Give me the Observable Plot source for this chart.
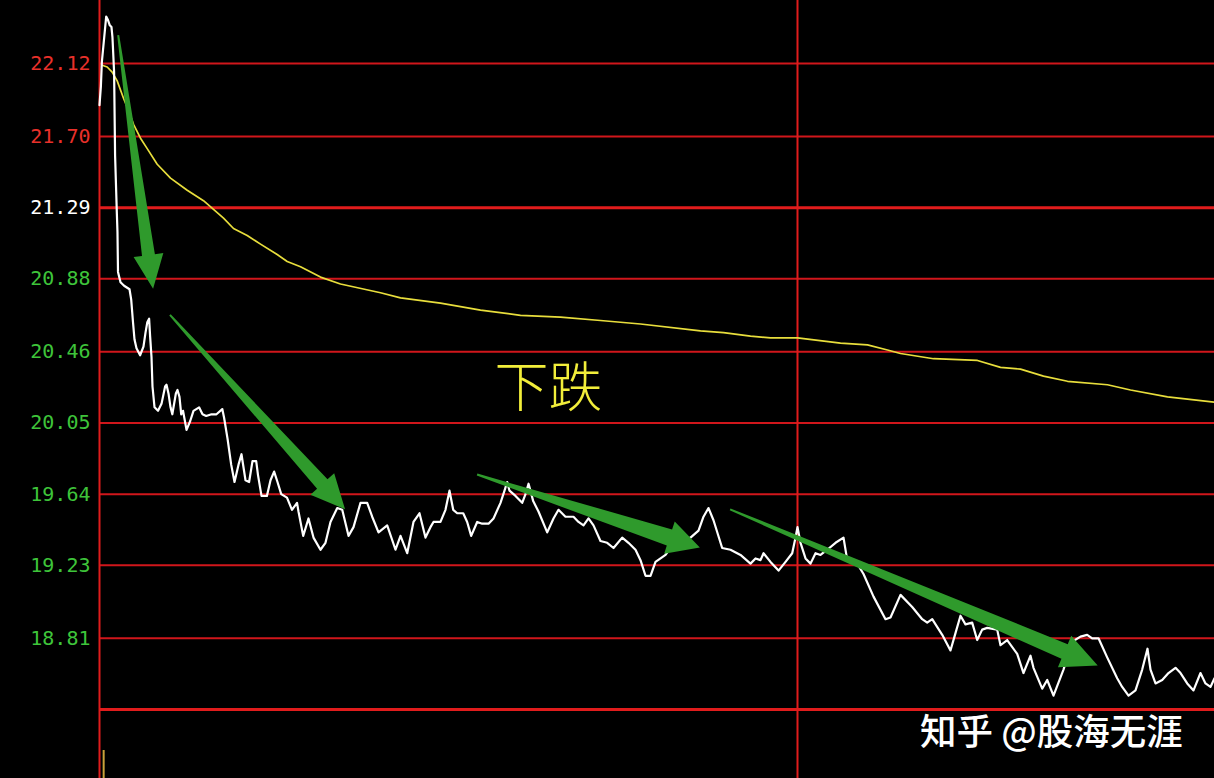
<!DOCTYPE html>
<html>
<head>
<meta charset="utf-8">
<script src="https://cdn.jsdelivr.net/npm/d3@7"></script>
<script src="https://cdn.jsdelivr.net/npm/@observablehq/plot@0.6"></script>
<style>
  html, body { margin: 0; padding: 0; background: #000; }
  #wrap { position: relative; width: 1214px; height: 778px; overflow: hidden; background: #000; }
  #mark { position: absolute; left: 920px; top: 703px; color: #fff; font: 500 36.5px "Noto Sans CJK SC", sans-serif; white-space: nowrap; }
</style>
</head>
<body>
<div id="wrap"><div id="chart"></div><div id="mark">知乎 @股海无涯</div></div>
<script>
// ---- data (minutes since open, price) ----
const prevClose = 21.29;
const tickValues = [22.12, 21.70, 21.29, 20.88, 20.46, 20.05, 19.64, 19.23, 18.81];
const bottomLine = 18.40;
const sessionBreak = 120;   // 11:30 / 13:00
const sessionMinutes = 240;

const priceMinutes = [0,0.24,0.41,1.15,1.46,1.77,2.06,2.23,2.51,2.68,2.99,3.09,3.18,3.61,4.23,5.16,5.45,5.76,6.02,6.36,6.98,7.56,7.91,8.22,8.53,8.70,8.94,9.11,9.46,10.06,10.66,11.28,11.52,11.86,12.21,12.52,13.13,13.41,13.75,14.05,14.36,14.96,15.58,16.16,17.12,17.71,18.34,19.26,20.11,21.11,21.42,22.01,22.64,23.21,23.90,24.41,25.10,25.72,26.30,26.94,27.25,27.85,28.78,29.40,30.02,30.60,31.24,32.23,33.09,33.96,34.21,35.02,35.93,36.79,37.99,38.85,39.71,40.87,41.73,42.81,43.67,44.87,46.02,46.88,47.97,49.46,50.89,51.75,52.90,53.98,55.01,56.04,56.90,57.42,58.62,59.48,60.17,60.81,61.50,62.53,63.21,63.90,64.93,65.79,66.88,67.74,68.94,69.63,70.09,70.49,71.52,72.67,73.24,73.76,74.10,74.56,75.47,76.97,78.05,78.91,80.11,81.49,82.35,83.21,84.07,84.93,86.13,87.28,88.37,89.86,90.94,92.15,93.01,93.87,94.73,95.59,96.45,97.31,98.17,99.89,101.61,102.98,103.84,104.70,105.56,107.05,108.48,110.20,111.92,112.78,113.64,114.16,115.36,116.74,117.94,119.09,119.66,120.00,120.52,121.38,122.24,123.10,123.96,125.11,126.54,127.91,128.55,129.63,130.27,131.35,133.07,135.13,135.99,137.71,139.72,141.44,142.30,143.16,144.88,146.30,147.16,148.02,148.88,150.03,150.89,151.75,152.61,154.33,154.90,156.05,157.77,158.85,160.06,160.57,162.07,162.93,164.01,165.73,167.22,168.65,169.80,170.66,171.75,173.24,174.96,175.82,176.91,178.11,179.26,180.17,180.69,181.55,182.70,183.78,184.99,185.85,187.00,188.08,189.28,190.14,191.00,191.69];
const prices = [21.88,21.99,22.13,22.39,22.37,22.34,22.33,22.27,22.07,21.59,21.25,21.15,20.92,20.86,20.84,20.82,20.76,20.63,20.53,20.48,20.44,20.49,20.57,20.63,20.65,20.55,20.43,20.26,20.14,20.12,20.16,20.26,20.27,20.22,20.14,20.10,20.22,20.24,20.20,20.10,20.12,20.01,20.06,20.12,20.14,20.10,20.09,20.10,20.10,20.13,20.08,19.96,19.81,19.71,19.81,19.87,19.72,19.71,19.83,19.83,19.75,19.63,19.63,19.72,19.77,19.71,19.64,19.62,19.55,19.59,19.54,19.40,19.50,19.39,19.32,19.36,19.48,19.56,19.55,19.40,19.45,19.59,19.59,19.51,19.42,19.46,19.32,19.40,19.30,19.48,19.53,19.39,19.45,19.48,19.48,19.55,19.66,19.55,19.53,19.53,19.48,19.40,19.48,19.47,19.47,19.50,19.59,19.66,19.71,19.66,19.63,19.59,19.64,19.70,19.66,19.60,19.54,19.42,19.50,19.55,19.51,19.51,19.48,19.46,19.50,19.46,19.37,19.36,19.33,19.39,19.36,19.32,19.26,19.17,19.17,19.25,19.27,19.29,19.33,19.36,19.39,19.43,19.51,19.56,19.49,19.33,19.32,19.29,19.24,19.27,19.26,19.30,19.25,19.20,19.25,19.30,19.39,19.45,19.36,19.27,19.24,19.30,19.29,19.32,19.36,19.39,19.26,19.26,19.24,19.18,19.05,18.92,18.93,19.06,18.99,18.92,18.90,18.92,18.83,18.74,18.84,18.94,18.89,18.90,18.80,18.86,18.87,18.86,18.77,18.80,18.72,18.61,18.71,18.64,18.52,18.57,18.48,18.63,18.79,18.82,18.83,18.81,18.81,18.70,18.58,18.53,18.48,18.51,18.63,18.75,18.63,18.55,18.57,18.61,18.64,18.61,18.55,18.51,18.61,18.55,18.53,18.58];

const avgMinutes = [0.46,1.32,2.18,3.04,4.13,4.99,5.85,7.05,8.20,9.92,12.21,15.08,17.88,19.60,21.32,23.04,25.39,27.68,30.55,32.27,34.56,37.99,41.43,48.31,51.75,58.62,65.50,72.38,79.25,86.13,93.01,103.32,107.28,111.92,115.36,120.00,127.39,132.03,135.47,137.71,143.38,150.94,154.90,158.34,162.29,166.42,173.29,177.25,183.61,191.69];
const avgPrices = [22.11,22.10,22.07,22.02,21.92,21.85,21.77,21.69,21.63,21.54,21.46,21.39,21.33,21.28,21.23,21.17,21.13,21.08,21.02,20.98,20.95,20.89,20.85,20.80,20.77,20.74,20.70,20.67,20.66,20.64,20.62,20.58,20.57,20.55,20.54,20.54,20.51,20.50,20.47,20.45,20.42,20.41,20.37,20.36,20.32,20.29,20.27,20.24,20.20,20.17];

// volume panel (only the first bar is visible in the crop)
const volumeMinutes = [0.8];
const volumeHeights = [28];

// trend arrows: tail -> tip (minute, price)
const arrowTailMinutes = [3.3, 12.2, 65.0, 108.5];
const arrowTailPrices  = [22.28, 20.67, 19.75, 19.55];
const arrowTipMinutes  = [9.3, 42.3, 103.3, 171.7];
const arrowTipPrices   = [20.82, 19.55, 19.33, 18.65];

const labelText = "下跌";
const labelMinute = 77.2;
const labelPrice = 20.24;

// ---- build ----
const priceSeries = priceMinutes.map((m, i) => ({m, p: prices[i]}));
const avgSeries = avgMinutes.map((m, i) => ({m, p: avgPrices[i]}));
const arrows = arrowTailMinutes.map((m, i) => ({
  m1: m, p1: arrowTailPrices[i], m2: arrowTipMinutes[i], p2: arrowTipPrices[i]
}));

const RED = "#d0161b";
const tickColor = v => v > prevClose ? "#e8302a" : v < prevClose ? "#3ec43a" : "#ffffff";

function arrowMark(index, scales) {
  const g = d3.create("svg:g");
  const shape = [
    {w0: 2, w1: 13, hw: 30, hl: 34},
    {w0: 2, w1: 14, hw: 32, hl: 34},
    {w0: 2, w1: 17, hw: 34, hl: 32},
    {w0: 2, w1: 16, hw: 34, hl: 36}
  ];
  arrows.forEach((a, i) => {
    const s = shape[i];
    const tx = scales.x(a.m1), ty = scales.y(a.p1);
    const px = scales.x(a.m2), py = scales.y(a.p2);
    const L = Math.hypot(px - tx, py - ty);
    const ux = (px - tx) / L, uy = (py - ty) / L;
    const nx = -uy, ny = ux;
    const bx = px - ux * s.hl, by = py - uy * s.hl;
    const pts = [
      [tx + nx * s.w0 / 2, ty + ny * s.w0 / 2],
      [bx + nx * s.w1 / 2, by + ny * s.w1 / 2],
      [bx + nx * s.hw / 2, by + ny * s.hw / 2],
      [px, py],
      [bx - nx * s.hw / 2, by - ny * s.hw / 2],
      [bx - nx * s.w1 / 2, by - ny * s.w1 / 2],
      [tx - nx * s.w0 / 2, ty - ny * s.w0 / 2]
    ];
    g.append("polygon")
      .attr("points", pts.map(p => p.join(",")).join(" "))
      .attr("fill", "#2f9a2c");
  });
  return g.node();
}

function volumeMark(index, scales, values, dims) {
  const g = d3.create("svg:g");
  volumeMinutes.forEach((m, i) => {
    const x = scales.x(m);
    g.append("line")
      .attr("x1", x).attr("x2", x)
      .attr("y1", dims.height).attr("y2", dims.height - volumeHeights[i])
      .attr("stroke", "#c9a23a").attr("stroke-width", 2);
  });
  return g.node();
}

const chart = Plot.plot({
  width: 1214,
  height: 778,
  margin: 0,
  style: {background: "#000", overflow: "hidden"},
  x: {type: "linear", domain: [0, sessionMinutes], range: [99, 99 + 1396], axis: null},
  y: {type: "linear", domain: [bottomLine, 22.12], range: [709, 63], axis: null},
  marks: [
    Plot.ruleY(tickValues.filter(v => v !== prevClose), {x1: 0, x2: sessionMinutes, stroke: RED, strokeWidth: 2}),
    Plot.ruleY([prevClose, bottomLine], {x1: 0, x2: sessionMinutes, stroke: "#e01c1c", strokeWidth: 3}),
    Plot.ruleX([0, sessionBreak], {stroke: "#e01c1c", strokeWidth: 2}),
    Plot.text(tickValues, {
      x: 0, y: d => d, text: d => d.toFixed(2), dx: -9, textAnchor: "end",
      fill: d => tickColor(d), fontSize: 20, fontFamily: "DejaVu Sans Mono"
    }),
    volumeMark,
    Plot.line(avgSeries, {x: "m", y: "p", stroke: "#e8de3c", strokeWidth: 1.7}),
    Plot.line(priceSeries, {x: "m", y: "p", stroke: "#ffffff", strokeWidth: 2.2, strokeLinejoin: "round"}),
    arrowMark,
    Plot.text([labelText], {
      x: labelMinute, y: labelPrice, text: d => d, fill: "#f2ee3a",
      fontSize: 54, fontWeight: 300, fontFamily: "Noto Sans CJK SC", textAnchor: "middle"
    })
  ]
});
document.getElementById("chart").appendChild(chart);
</script>
</body>
</html>
